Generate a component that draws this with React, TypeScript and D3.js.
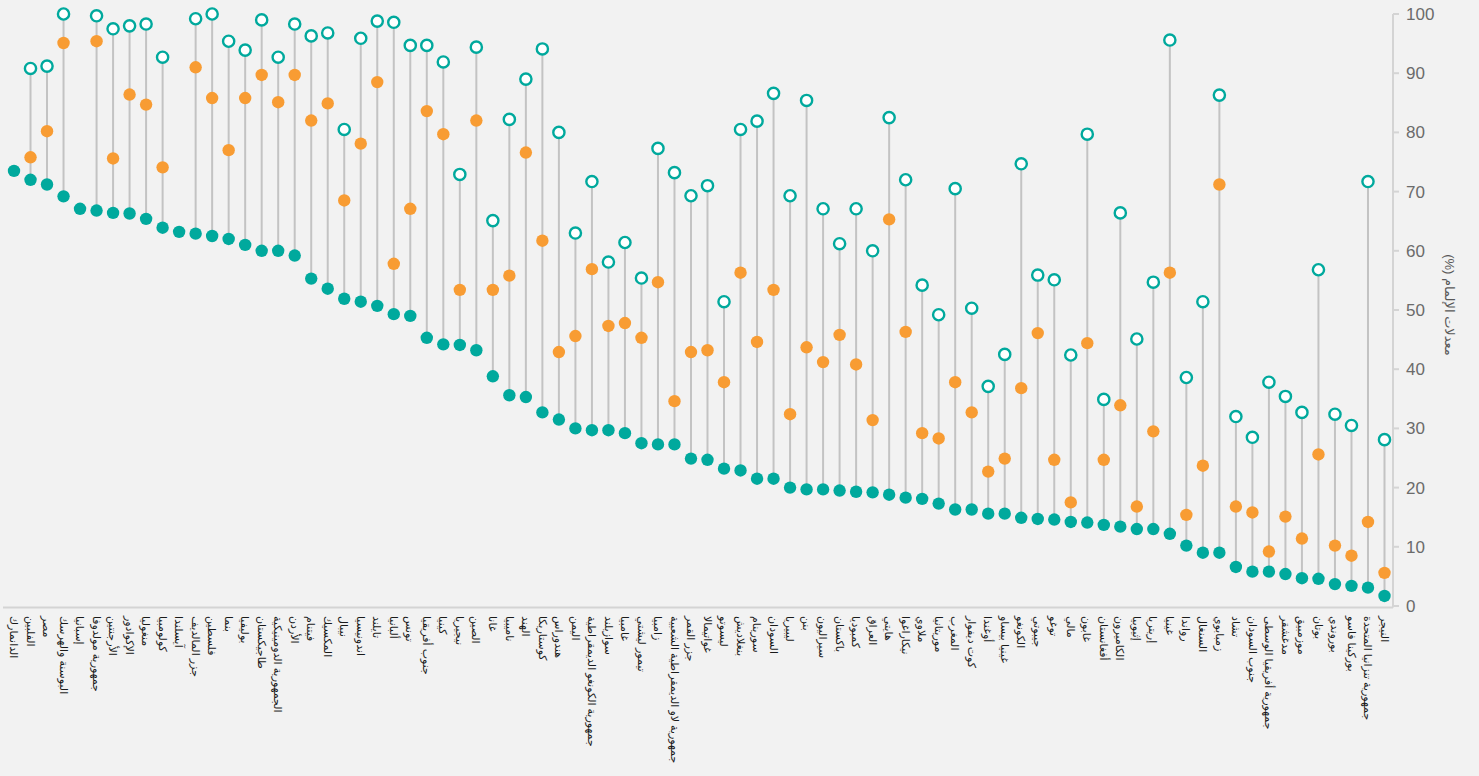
import React from "react";
import * as d3 from "d3";

const countries: string[] = [
  "الدانمارك", "الفلبين", "مصر", "البوسنة والهرسك", "إسبانيا", "جمهورية مولدوفا", "الأرجنتين", "الإكوادور", "منغوليا", "كولومبيا",
  "آيسلندا", "جزر المالديف", "فلسطين", "بنما", "بوليفيا", "طاجيكستان", "الجمهورية الدومينيكية", "الأردن", "فيتنام", "المكسيك",
  "نيبال", "اندونيسيا", "تايلند", "ألبانيا", "تونس", "جنوب أفريقيا", "كينيا", "نيجيريا", "الصين", "غانا",
  "ناميبيا", "الهند", "كوستاريكا", "هندوراس", "اليمن", "جمهورية الكونغو الديمقراطية", "سوازيلند", "غامبيا", "تيمور ليشتي", "زامبيا",
  "جمهورية لاو الديمقراطية الشعبية", "جزر القمر", "غواتيمالا", "ليسوتو", "بنغلاديش", "سورينام", "السودان", "ليبيريا", "بنن", "سيراليون",
  "باكستان", "كمبوديا", "العراق", "هايتي", "نيكاراغوا", "ملاوي", "موريتانيا", "المغرب", "كوت ديفوار", "أوغندا",
  "غينيا بيساو", "الكونغو", "جيبوتي", "توغو", "مالي", "غابون", "أفغانستان", "الكاميرون", "إثيوبيا", "إريتريا",
  "غينيا", "رواندا", "السنغال", "زمبابوي", "تشاد", "جنوب السودان", "جمهورية أفريقيا الوسطى", "مدغشقر", "موزمبيق", "بوتان",
  "بوروندي", "بوركينا فاسو", "جمهورية تنزانيا المتحدة", "النيجر",
];

const lowValues: number[] = [
  73.5, 72, 71.2, 69.2, 67.1, 66.8, 66.4, 66.3, 65.4, 63.9,
  63.2, 62.9, 62.5, 62, 61, 60, 60, 59.2, 55.3, 53.6,
  51.9, 51.4, 50.7, 49.3, 49, 45.3, 44.2, 44.1, 43.2, 38.8,
  35.6, 35.3, 32.7, 31.5, 30, 29.7, 29.7, 29.2, 27.5, 27.3,
  27.3, 24.9, 24.7, 23.2, 22.9, 21.5, 21.5, 20, 19.7, 19.7,
  19.5, 19.3, 19.2, 18.8, 18.3, 18.1, 17.3, 16.3, 16.3, 15.6,
  15.6, 14.9, 14.7, 14.6, 14.2, 14.1, 13.7, 13.4, 13, 13,
  12.2, 10.2, 9, 9, 6.6, 5.8, 5.8, 5.4, 4.7, 4.6,
  3.7, 3.4, 3.1, 1.7,
];

const midValues: (number | null)[] = [
  null, 75.8, 80.2, 95.1, null, 95.4, 75.6, 86.4, 84.7, 74.1,
  null, 91, 85.8, 77, 85.8, 89.7, 85.1, 89.7, 82, 84.9,
  68.5, 78.1, 88.5, 57.8, 67.1, 83.6, 79.7, 53.4, 82, 53.4,
  55.8, 76.6, 61.7, 42.9, 45.6, 56.9, 47.3, 47.8, 45.3, 54.7,
  34.6, 42.9, 43.2, 37.8, 56.3, 44.6, 53.4, 32.4, 43.7, 41.2,
  45.8, 40.8, 31.4, 65.3, 46.3, 29.2, 28.3, 37.8, 32.7, 22.7,
  24.9, 36.8, 46.1, 24.7, 17.5, 44.4, 24.7, 33.9, 16.8, 29.5,
  56.3, 15.4, 23.7, 71.2, 16.8, 15.8, 9.2, 15.1, 11.4, 25.6,
  10.2, 8.5, 14.2, 5.6,
];

const highValues: (number | null)[] = [
  null, 90.8, 91.2, 100, null, 99.7, 97.5, 98, 98.3, 92.7,
  null, 99.2, 100, 95.4, 93.9, 99, 92.7, 98.3, 96.3, 96.8,
  80.5, 95.9, 98.8, 98.6, 94.7, 94.7, 91.9, 72.9, 94.4, 65.1,
  82.2, 89, 94.1, 80, 63, 71.7, 58.1, 61.4, 55.4, 77.3,
  73.2, 69.3, 71, 51.4, 80.5, 81.9, 86.6, 69.3, 85.4, 67.1,
  61.2, 67.1, 60, 82.5, 72, 54.2, 49.2, 70.5, 50.3, 37.1,
  42.5, 74.7, 55.9, 55.1, 42.4, 79.7, 34.9, 66.4, 45.1, 54.7,
  95.6, 38.6, 51.4, 86.3, 32, 28.5, 37.8, 35.4, 32.7, 56.8,
  32.4, 30.5, 71.7, 28.1,
];

const yTicks: number[] = [0, 10, 20, 30, 40, 50, 60, 70, 80, 90, 100];
const yTitle = "معدلات الإلمام (%)";

const W = 1479;
const H = 776;
const TEAL = "#00a99d";
const ORANGE = "#f89c33";
const GREY = "#c3c3c3";

export default function App() {
  const x = d3.scalePoint<string>().domain(countries).range([14, 1384.5]);
  const y = d3.scaleLinear().domain([0, 100]).range([606, 14]);
  const axisX = 1393;

  const rows = countries.map((c, i) => ({
    c,
    lo: lowValues[i],
    mid: midValues[i],
    hi: highValues[i],
  }));

  return (
    <div style={{ position: "fixed", left: 0, top: 0, width: W, height: H, background: "#f2f2f2" }}>
      <svg width={W} height={H} style={{ display: "block", fontFamily: "Arial, 'Liberation Sans', 'DejaVu Sans', sans-serif" }}>
        {/* baseline */}
        <line x1={3} x2={axisX} y1={607.5} y2={607.5} stroke="#d4d4d4" strokeWidth={2} />
        {/* right axis */}
        <line x1={axisX} x2={axisX} y1={y(100)} y2={607.5} stroke="#d4d4d4" strokeWidth={2} />
        {yTicks.map((t) => (
          <g key={t}>
            <line x1={axisX} x2={axisX + 6} y1={y(t)} y2={y(t)} stroke="#d4d4d4" strokeWidth={2} />
            <text x={axisX + 13} y={y(t)} dy="0.35em" fontSize={17} fill="#6b6b6b">
              {t}
            </text>
          </g>
        ))}
        <text
          transform={`translate(${1450},${305}) rotate(90)`}
          textAnchor="middle"
          direction="rtl"
          dy="0.35em"
          fontSize={13}
          fill="#595959"
        >
          {yTitle}
        </text>

        {/* connectors */}
        {rows.map((r) => {
          const vals = [r.lo, r.mid, r.hi].filter((v) => v !== null) as number[];
          if (vals.length < 2) return null;
          const px = x(r.c) as number;
          return (
            <line
              key={"l" + r.c}
              x1={px}
              x2={px}
              y1={y(d3.min(vals) as number)}
              y2={y(d3.max(vals) as number)}
              stroke={GREY}
              strokeWidth={2}
            />
          );
        })}
        {/* low series */}
        {rows.map((r) => (
          <circle key={"g" + r.c} cx={x(r.c) as number} cy={y(r.lo)} r={6.2} fill={TEAL} />
        ))}
        {/* mid series */}
        {rows.map((r) =>
          r.mid === null ? null : (
            <circle key={"o" + r.c} cx={x(r.c) as number} cy={y(r.mid)} r={6.2} fill={ORANGE} />
          )
        )}
        {/* high series */}
        {rows.map((r) =>
          r.hi === null ? null : (
            <circle
              key={"h" + r.c}
              cx={x(r.c) as number}
              cy={y(r.hi)}
              r={5.6}
              fill="#ffffff"
              stroke={TEAL}
              strokeWidth={2.4}
            />
          )
        )}

        {/* category labels */}
        {rows.map((r) => (
          <text
            key={"t" + r.c}
            transform={`translate(${(x(r.c) as number)},${616}) rotate(90)`}
            textAnchor="start"
            dy="0.35em"
            fontSize={11}
            fill="#1a1a1a"
          >
            {r.c}
          </text>
        ))}
      </svg>
    </div>
  );
}
